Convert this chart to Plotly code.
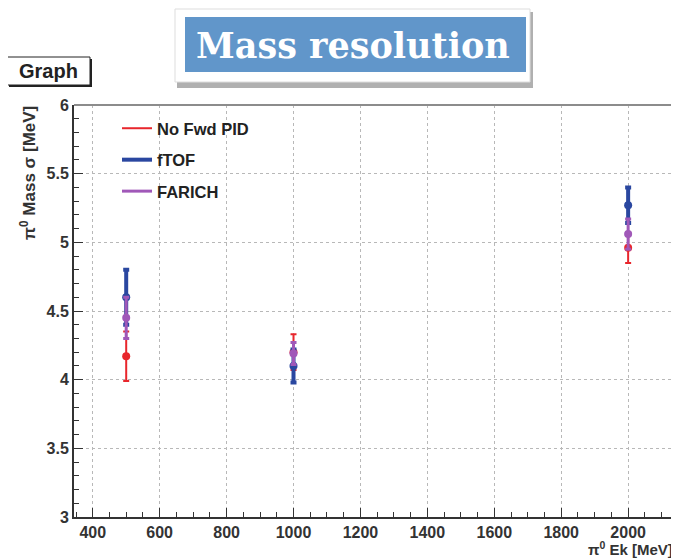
import plotly.graph_objects as go

# ---- data ----
energy = [500, 1000, 2000]
series_names = ["No Fwd PID", "fTOF", "FARICH"]
nofwd_sigma = [4.17, 4.20, 4.96]
nofwd_err = [0.18, 0.13, 0.11]
ftof_sigma = [4.60, 4.10, 5.27]
ftof_err = [0.20, 0.12, 0.13]
farich_sigma = [4.45, 4.19, 5.06]
farich_err = [0.15, 0.08, 0.11]

colors = ["#e8262c", "#2a47a0", "#a058b8"]
bar_w = [2, 4, 3]

# ---- layout helpers (window pixel -> paper); page body has an 8px margin ----
OFF = 8
W, H = 679 - OFF, 559 - OFF
L, R, T, B = 74, 679, 105, 517
def px(x):
    return (x - L) / (R - L)
def py(y):
    return (B - y) / (B - T)

fig = go.Figure()
vals = [nofwd_sigma, ftof_sigma, farich_sigma]
errs = [nofwd_err, ftof_err, farich_err]
for name, v, e, c, w in zip(series_names, vals, errs, colors, bar_w):
    fig.add_trace(go.Scatter(
        x=energy, y=v, mode="markers", showlegend=False,
        marker=dict(color=c, size=8, symbol="circle"),
        error_y=dict(type="data", array=e, visible=True, color=c,
                     thickness=w, width=3),
    ))
for i, (name, c, w) in enumerate(zip(series_names, colors, bar_w)):
    fig.add_trace(go.Scatter(
        x=[None], y=[None], mode="lines", name=name, legendgroup=name,
        line=dict(color=c, width=w),
    ))

axis_font = dict(family="Liberation Sans", size=16, color="#333333", weight="bold")

fig.update_layout(
    width=W, height=H,
    margin=dict(l=L - OFF, r=W - (R - OFF), t=T - OFF, b=H - (B - OFF), pad=0),
    paper_bgcolor="white", plot_bgcolor="white",
    showlegend=True,
    legend=dict(x=px(117), y=py(111), xanchor="left", yanchor="top",
                bgcolor="rgba(0,0,0,0)", borderwidth=0,
                font=dict(family="Liberation Sans", size=16.5, color="#222222", weight="bold"),
                traceorder="grouped", tracegroupgap=7, itemwidth=30),
    xaxis=dict(range=[344, 2152], dtick=200, tick0=0,
               showgrid=True, gridcolor="#b8b8b8", griddash="dot", gridwidth=1,
               showline=True, linecolor="#333333", linewidth=2,
               ticks="inside", ticklen=9, tickcolor="#333333", tickwidth=1,
               tickfont=axis_font, zeroline=False,
               minor=dict(dtick=50, ticks="inside", ticklen=5, tickcolor="#333333", showgrid=False)),
    yaxis=dict(range=[3, 6], dtick=0.5, tick0=0,
               showgrid=True, gridcolor="#b8b8b8", griddash="dot", gridwidth=1,
               showline=True, linecolor="#333333", linewidth=2,
               ticks="inside", ticklen=9, tickcolor="#333333", tickwidth=1,
               tickfont=axis_font, zeroline=False,
               minor=dict(dtick=0.1, ticks="inside", ticklen=5, tickcolor="#333333", showgrid=False)),
)

shapes = []
# top frame line
shapes.append(dict(type="line", xref="paper", yref="paper", x0=0, x1=1, y0=1, y1=1,
                   line=dict(color="#8c8c8c", width=2)))
# title box (shadow, white frame, blue panel)
shapes.append(dict(type="rect", xref="paper", yref="paper",
                   x0=px(177), x1=px(533), y0=py(88), y1=py(12),
                   fillcolor="#b0b0b0", line=dict(width=0), layer="above"))
shapes.append(dict(type="rect", xref="paper", yref="paper",
                   x0=px(175), x1=px(530), y0=py(82), y1=py(9),
                   fillcolor="white", line=dict(color="#dddddd", width=1), layer="above"))
shapes.append(dict(type="rect", xref="paper", yref="paper",
                   x0=px(185), x1=px(526), y0=py(72), y1=py(17),
                   fillcolor="#6196ca", line=dict(width=0), layer="above"))
# "Graph" box with shadow
shapes.append(dict(type="rect", xref="paper", yref="paper",
                   x0=px(9), x1=px(92), y0=py(87), y1=py(59),
                   fillcolor="#222222", line=dict(width=0), layer="above"))
shapes.append(dict(type="rect", xref="paper", yref="paper",
                   x0=px(7), x1=px(90), y0=py(85), y1=py(57),
                   fillcolor="white", line=dict(color="#222222", width=1), layer="above"))
fig.update_layout(shapes=shapes)

fig.add_annotation(text="<b>Mass resolution</b>", xref="paper", yref="paper",
                   x=px(353), y=py(46), showarrow=False, xanchor="center", yanchor="middle",
                   font=dict(family="DejaVu Serif", size=35, color="white"))
fig.add_annotation(text="<b>Graph</b>", xref="paper", yref="paper",
                   x=px(48), y=py(71), showarrow=False, xanchor="center", yanchor="middle",
                   font=dict(family="Liberation Sans", size=20, color="#222222"))
fig.add_annotation(text="<b>π<sup>0</sup> Mass σ [MeV]</b>", xref="paper", yref="paper",
                   x=px(28), y=py(104), showarrow=False, xanchor="center", yanchor="top",
                   textangle=-90,
                   font=dict(family="Liberation Sans", size=17, color="#333333"))
fig.add_annotation(text="<b>π<sup>0</sup> Ek [MeV]</b>", xref="paper", yref="paper",
                   x=px(675), y=py(548), showarrow=False, xanchor="right", yanchor="middle",
                   font=dict(family="Liberation Sans", size=15, color="#333333"))

fig.write_html("out.html")
